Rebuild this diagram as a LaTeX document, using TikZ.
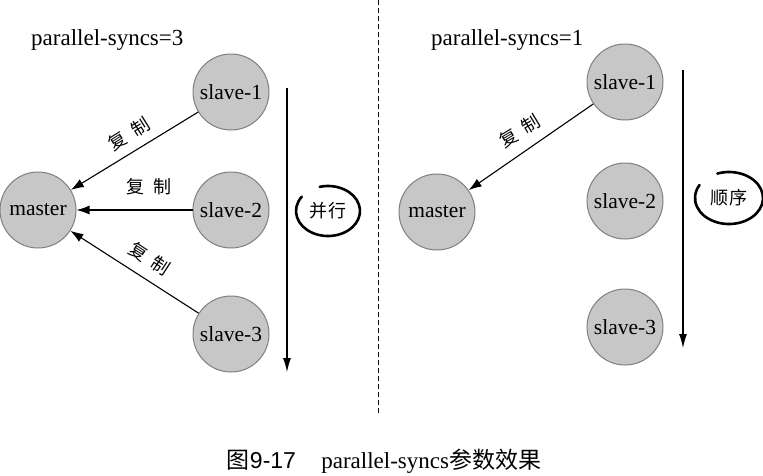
\documentclass[tikz,border=0pt]{standalone}
\usepackage{fontspec}
\setmainfont{Liberation Serif}
\newfontfamily\cjk{Noto Sans CJK SC}
\newfontfamily\capsans{Liberation Sans}
\usetikzlibrary{arrows.meta}
\begin{document}
\begin{tikzpicture}[x=1pt,y=-1pt,
  ball/.style={circle,draw=black!50,line width=1pt,fill=black!22,minimum size=76pt,inner sep=0pt,font=\fontsize{21.5}{24}\selectfont},
  conn/.style={line width=1.1pt,-{Latex[length=13pt,width=9pt]}},
  flow/.style={line width=1.1pt,-{Latex[length=14pt,width=8pt]}},
  lab/.style={font=\cjk\fontsize{18}{20}\selectfont,inner sep=0pt},
  hand/.style={line width=2.6pt,line cap=round},
  head/.style={anchor=west,font=\fontsize{23}{26}\selectfont,inner sep=0pt}]
\useasboundingbox (0,0) rectangle (763,475);
% left panel
\node[head] (h1) at (31,40) {parallel-syncs=3};
\node[ball] (lm) at (38,210) {master};
\node[ball] (ls1) at (231,92) {slave-1};
\node[ball] (ls2) at (231,210) {slave-2};
\node[ball] (ls3) at (231,334) {slave-3};
\draw[conn] (ls1) -- (lm);
\draw[conn] (ls2) -- (lm);
\draw[conn] (ls3) -- (lm);
\node[lab,rotate=32] (l1) at (129,134) {复\hspace{0.45em}制};
\node[lab] (l2) at (149,187) {复\hspace{0.45em}制};
\node[lab,rotate=-33] (l3) at (150,259) {复\hspace{0.45em}制};
\coordinate (la1) at (287,88);
\coordinate (la2) at (287,372);
\draw[flow] (la1) -- (la2);
\node[lab] (lp) at (328,211) {并\hspace{0.1em}行};
\draw[hand] (lp) ++(-105:32 and 25) arc[start angle=-105,end angle=215,x radius=32,y radius=25];
% divider
\coordinate (d1) at (378,0);
\coordinate (d2) at (378,415);
\draw[line width=0.8pt,dash pattern=on 5pt off 3pt] (d1) -- (d2);
% right panel
\node[head] (h2) at (431,40) {parallel-syncs=1};
\node[ball] (rm) at (437,212) {master};
\node[ball] (rs1) at (625,82) {slave-1};
\node[ball] (rs2) at (625,201) {slave-2};
\node[ball] (rs3) at (625,327) {slave-3};
\draw[conn] (rs1) -- (rm);
\node[lab,rotate=31] (r1) at (520,131) {复\hspace{0.45em}制};
\coordinate (ra1) at (683,70);
\coordinate (ra2) at (683,348);
\draw[flow] (ra1) -- (ra2);
\node[lab] (rp) at (729,198) {顺\hspace{0.1em}序};
\draw[hand] (rp) ++(-110:34 and 26) arc[start angle=-110,end angle=210,x radius=34,y radius=26];
% caption
\node[inner sep=0pt,font=\fontsize{23}{26}\selectfont] (cap) at (384,461) {{\cjk 图}{\capsans 9-17}\hspace{1.1em}parallel-syncs{\cjk 参数效果}};
\end{tikzpicture}
\end{document}
